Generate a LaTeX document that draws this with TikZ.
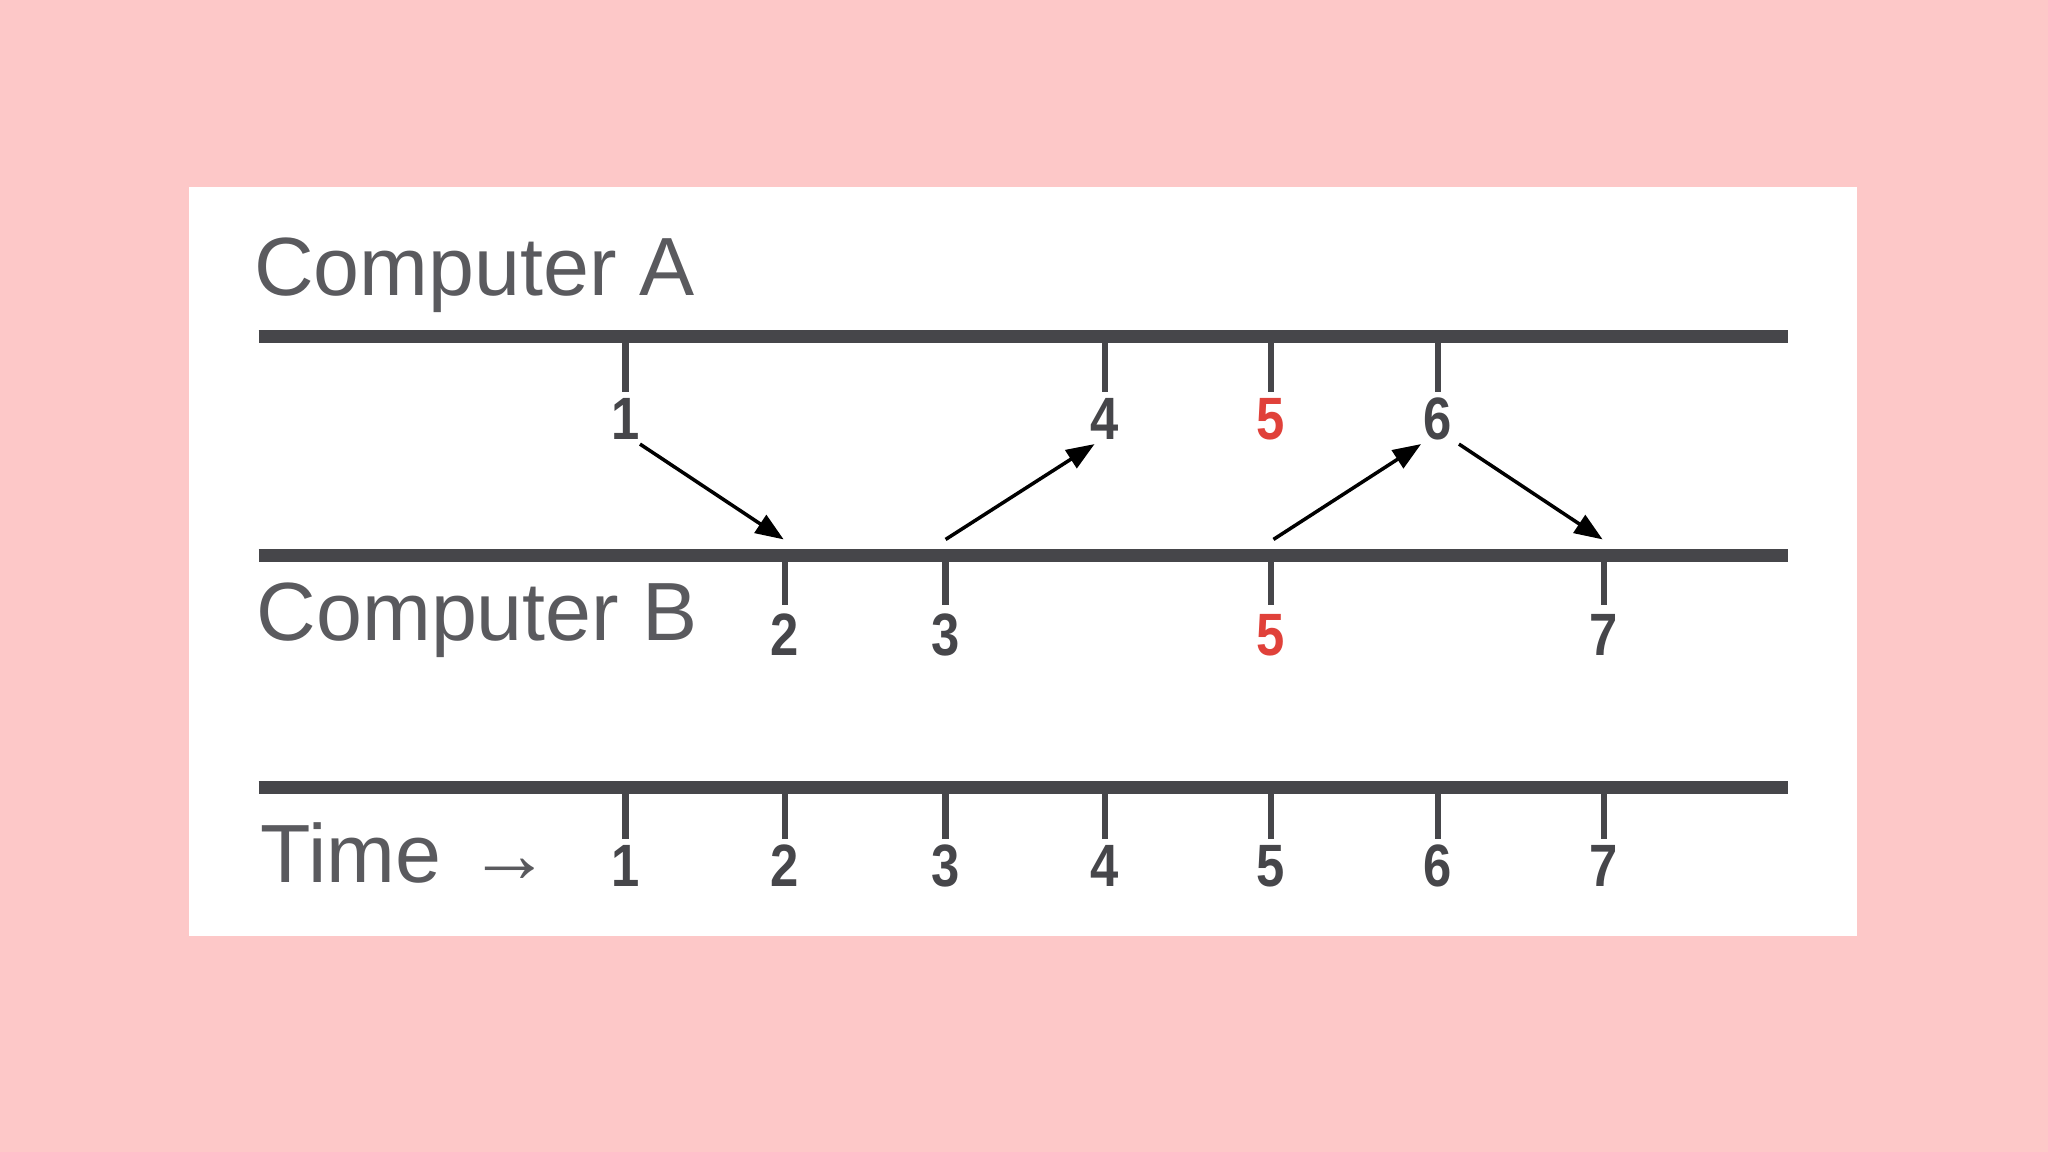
\documentclass[tikz,border=0pt]{standalone}
\usepackage{fontspec}
\setmainfont{Liberation Sans}
\usetikzlibrary{arrows.meta}
\definecolor{bgpink}{HTML}{FDC8C8}
\definecolor{bar}{HTML}{46464A}
\definecolor{txt}{HTML}{5A5A5E}
\definecolor{red5}{HTML}{E0413A}
\begin{document}
\begin{tikzpicture}[x=0.013061cm,y=-0.013061cm,
  barline/.style={bar,line width=3.7pt},
  tick/.style={bar,line width=1.9pt},
  num/.style={font=\fontsize{17}{17}\selectfont\bfseries,text=bar,inner sep=0pt,anchor=center,xscale=0.85},
  title/.style={font=\fontsize{23.5}{24}\selectfont,text=txt,anchor=base west,inner sep=0pt},
  msg/.style={black,line width=1pt,-{Triangle[length=8pt,width=6pt]}}]
\fill[bgpink] (0,0) rectangle (1568,882);
\useasboundingbox (0,0) rectangle (1568,882);
\fill[white] (145,143) rectangle (1422,717);
\node[title] (ta) at (194,226) {Computer A};
\node[title] (tb) at (196,490) {Computer B};
\node[title] (tt) at (199,676) {Time\,\,\char"2192};
\draw[barline] (198,258) -- (1369,258);
\draw[barline] (198,425) -- (1369,425);
\draw[barline] (198,603) -- (1369,603);
\foreach \x/\l/\c in {479/1/bar,846/4/bar,973/5/red5,1101/6/bar}{
  \draw[tick] (\x,260) -- (\x,300);
  \node[num,text=\c] (a\l) at (\x,321) {\l};}
\foreach \x/\l/\c in {601/2/bar,724/3/bar,973/5/red5,1228/7/bar}{
  \draw[tick] (\x,427) -- (\x,463);
  \node[num,text=\c] (b\l) at (\x,486) {\l};}
\foreach \x/\l in {479/1,601/2,724/3,846/4,973/5,1101/6,1228/7}{
  \draw[tick] (\x,605) -- (\x,642);
  \node[num] (t\l) at (\x,663) {\l};}
\coordinate (s1) at (490,340); \coordinate (e1) at (600,413);
\coordinate (s2) at (724,413); \coordinate (e2) at (838,340);
\coordinate (s3) at (975,413); \coordinate (e3) at (1088,340);
\coordinate (s4) at (1117,340); \coordinate (e4) at (1227,413);
\draw[msg] (s1) -- (e1);
\draw[msg] (s2) -- (e2);
\draw[msg] (s3) -- (e3);
\draw[msg] (s4) -- (e4);
\end{tikzpicture}
\end{document}
